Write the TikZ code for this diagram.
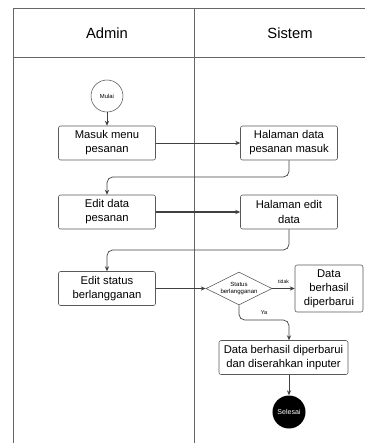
\documentclass[tikz,border=0pt]{standalone}
\usepackage{fontspec}
\setmainfont{Liberation Sans}
\usetikzlibrary{shapes.geometric,arrows.meta}
\tikzset{
  lajur/.style={draw=black!60, line width=0.6pt},
  kotak/.style={draw=black!65, rounded corners=1.5pt, minimum width=2.425cm,
    minimum height=0.85cm, align=center, inner sep=1pt,
    font=\fontsize{8}{10}\selectfont},
  alur/.style={->, draw=black!75, line width=0.5pt},
  kecil/.style={font=\fontsize{3.6}{4.2}\selectfont, align=center}
}
\begin{document}
\begin{tikzpicture}[x=0.025cm,y=-0.025cm,>={Stealth[length=3.5pt,width=3pt]}]
\useasboundingbox (0,0) rectangle (365,443);
% lajur admin dan sistem
\draw[lajur] (13,443) -- (13,8) -- (365,8);
\draw[lajur] (13,57) -- (365,57);
\draw[lajur] (194,8) -- (194,443);
\node at (107,33) [font=\fontsize{10.5}{12}\selectfont](Admin){Admin};
\node at (290,33) [font=\fontsize{10.5}{12}\selectfont](Sistem){Sistem};
% aktivitas
\node at (107,96) [draw=black!65, shape=circle, minimum size=0.8cm, inner sep=0pt, kecil, font=\fontsize{4.2}{5}\selectfont](Mulai){Mulai};
\node at (107,143) [kotak](Masuk){Masuk menu\\pesanan};
\node at (289,143) [kotak](Halaman1){Halaman data\\pesanan masuk};
\node at (107,212) [kotak](Edit){Edit data\\pesanan};
\node at (289,212) [kotak](Halaman2){Halaman edit\\data};
\node at (107,288.5) [kotak](Status){Edit status\\berlangganan};
\node at (239,288.5) [draw=black!65, shape=diamond, aspect=2, minimum width=1.65cm, minimum height=0.825cm, inner sep=0pt, kecil, font=\fontsize{4.3}{5}\selectfont](Cek){Status\\berlangganan};
\node at (329,288.5) [kotak, minimum width=1.7cm, minimum height=1.175cm](Gagal){Data\\berhasil\\diperbarui};
\node at (283.5,357.5) [kotak, minimum width=3.225cm](Berhasil){Data berhasil diperbarui\\dan diserahkan inputer};
\node at (289,412) [shape=circle, fill=black, minimum size=0.825cm, inner sep=0pt, text=white, kecil, font=\fontsize{5}{6}\selectfont](Selesai){Selesai};
% alur
\coordinate (b1) at (107,177);
\coordinate (b2) at (107,250);
\coordinate (b3) at (289,320);
\draw[alur] (Mulai) -- (Masuk);
\draw[alur] (Masuk) -- (Halaman1);
\draw[alur, rounded corners=4pt] (Halaman1.south) |- (b1) -- (Edit.north);
\draw[alur, line width=0.9pt] (Edit) -- (Halaman2);
\draw[alur, rounded corners=4pt] (Halaman2.south) |- (b2) -- (Status.north);
\draw[alur] (Status) -- (Cek);
\draw[alur] (Cek) -- node[above, kecil]{tidak} (Gagal);
\draw[alur, rounded corners=4pt] (Cek.south) |- node[pos=0.75, above, kecil, font=\fontsize{4}{5}\selectfont]{Ya} (b3) -- (b3 |- Berhasil.north);
\draw[alur] (b3 |- Berhasil.south) -- (Selesai);
\end{tikzpicture}
\end{document}
